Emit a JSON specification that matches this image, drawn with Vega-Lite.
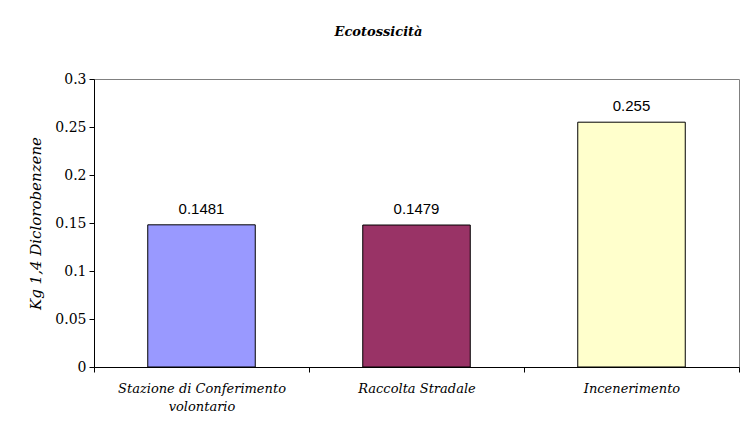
{
  "$schema": "https://vega.github.io/schema/vega-lite/v6.json",
  "width": 645,
  "height": 288,
  "autosize": {"type": "none"},
  "padding": {"left": 94, "top": 79, "right": 1, "bottom": 65},
  "background": "white",
  "title": {
    "text": "Ecotossicità",
    "font": "DejaVu Serif",
    "fontSize": 13,
    "fontStyle": "italic",
    "fontWeight": "bold",
    "anchor": "middle",
    "dx": -38,
    "offset": 33,
    "color": "black"
  },
  "data": {
    "values": [
      {"categoria": "Stazione di Conferimento volontario", "valore": 0.1481},
      {"categoria": "Raccolta Stradale", "valore": 0.1479},
      {"categoria": "Incenerimento", "valore": 0.255}
    ]
  },
  "encoding": {
    "x": {
      "field": "categoria",
      "type": "nominal",
      "sort": null,
      "scale": {"paddingInner": 0, "paddingOuter": 0},
      "axis": {
        "title": null,
        "labelAngle": 0,
        "tickBand": "extent",
        "grid": false,
        "domainColor": "black",
        "tickColor": "black",
        "tickSize": 5,
        "labelFont": "DejaVu Serif",
        "labelFontStyle": "italic",
        "labelFontSize": 13,
        "labelColor": "black",
        "labelPadding": 10,
        "labelLimit": 0,
        "labelLineHeight": 18,
        "labelBaseline": "top",
        "labelExpr": "datum.label == 'Stazione di Conferimento volontario' ? ['Stazione di Conferimento', 'volontario'] : datum.label"
      }
    },
    "y": {
      "field": "valore",
      "type": "quantitative",
      "scale": {"domain": [0, 0.3]},
      "axis": {
        "values": [0, 0.05, 0.1, 0.15, 0.2, 0.25, 0.3],
        "format": "~g",
        "grid": false,
        "domainColor": "black",
        "tickColor": "black",
        "tickSize": 5,
        "labelPadding": 3,
        "labelFlush": false,
        "labelFont": "DejaVu Serif",
        "labelFontSize": 14,
        "labelColor": "black",
        "title": "Kg 1,4 Diclorobenzene",
        "titleFont": "DejaVu Serif",
        "titleFontStyle": "italic",
        "titleFontWeight": "normal",
        "titleFontSize": 15,
        "titleColor": "black",
        "titlePadding": 11
      }
    }
  },
  "layer": [
    {
      "mark": {"type": "bar", "width": {"band": 0.5}, "stroke": "black", "strokeWidth": 1},
      "encoding": {
        "color": {
          "field": "categoria",
          "type": "nominal",
          "sort": null,
          "scale": {"range": ["#9999FF", "#993366", "#FFFFCC"]},
          "legend": null
        }
      }
    },
    {
      "mark": {"type": "text", "baseline": "alphabetic", "dy": -11, "font": "Liberation Sans", "fontSize": 15, "color": "black"},
      "encoding": {
        "text": {"field": "valore", "type": "quantitative", "format": ".4~f"}
      }
    }
  ],
  "config": {"view": {"stroke": "#808080", "strokeWidth": 1}}
}
